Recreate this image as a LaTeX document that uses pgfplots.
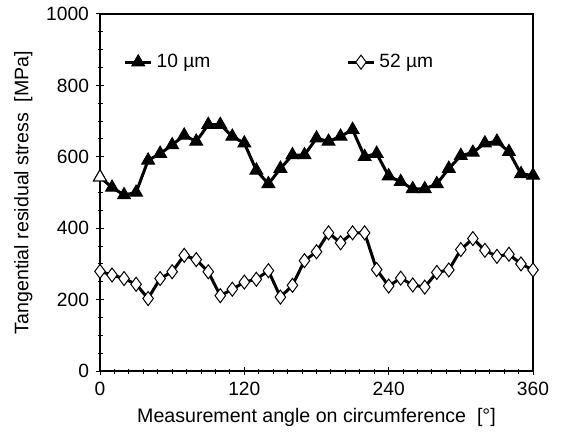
\documentclass[border=0pt]{standalone}
\usepackage{fontspec}
\setmainfont{Liberation Sans}
\usepackage{pgfplots}
\pgfplotsset{compat=1.18}

\pgfplotstableread{
ang  s10
0    543
10   514
20   493
30   500
40   590
50   609
60   633
70   660
80   643
90   690
100  690
110  657
120  638
130  562
140  524
150  567
160  605
170  605
180  652
190  643
200  657
210  676
220  600
230  609
240  546
250  530
260  510
270  510
280  524
290  567
300  603
310  612
320  638
330  643
340  614
350  552
360  548
}\tenum

\pgfplotstableread{
ang  s52
0    279
10   269
20   259
30   243
40   203
50   259
60   278
70   324
80   312
90   278
100  211
110  229
120  249
130  257
140  281
150  207
160  240
170  309
180  334
190  387
200  359
210  387
220  387
230  284
240  238
250  260
260  241
270  235
280  276
290  283
300  340
310  371
320  338
330  321
340  327
350  300
360  283
}\fiftytwo

\begin{document}
\begin{tikzpicture}
\begin{axis}[
    scale only axis,
    width=216.5pt, height=178.5pt,
    xmin=0, xmax=360, ymin=0, ymax=1000,
    xtick={0,120,240,360},
    ytick={0,200,400,600,800,1000},
    minor x tick num=9,
    minor y tick num=3,
    xtick pos=left, ytick pos=left,
    tick align=center,
    major tick length=4pt, minor tick length=2.5pt,
    every tick/.style={black, line width=0.5pt},
    axis line style={line width=0.6pt},
    /pgf/number format/assume math mode=true,
    /pgf/number format/1000 sep={},
    tick label style={font=\fontsize{9.6}{11}\selectfont},
    label style={font=\fontsize{9.8}{11}\selectfont},
    xlabel={Measurement angle on circumference\ \ [°]},
    ylabel={Tangential residual stress\ \ [MPa]},
    xlabel style={yshift=0.5pt},
    ylabel style={yshift=0pt},
    legend style={draw=none, fill=none, at={(0.04,0.865)}, anchor=west,
        legend columns=2, font=\fontsize{9.6}{11}\selectfont,
        /tikz/every even column/.append style={column sep=66pt}},
    legend image code/.code={\draw[mark repeat=2,mark phase=2,#1] plot coordinates {(0pt,0pt) (6.5pt,0pt) (13pt,0pt)};},
]
\addplot[black, line width=1.5pt, mark=triangle*, mark size=3.7pt,
    mark options={solid, line width=0.5pt, fill=black}] table[x=ang, y=s10] {\tenum};
\addlegendentry{10 µm}
\addplot[black, line width=1.5pt, mark=diamond*, mark size=3.5pt,
    mark options={solid, line width=0.5pt, fill=white}] table[x=ang, y=s52] {\fiftytwo};
\addlegendentry{52 µm}
\addplot[forget plot, only marks, mark=triangle*, mark size=3.7pt,
    mark options={line width=0.5pt, draw=black, fill=white}] coordinates {(0,543)};
\end{axis}
\pgfresetboundingbox
\useasboundingbox ([shift={(-50pt,-32.5pt)}]current axis.south west) rectangle ([shift={(15pt,7pt)}]current axis.north east);
\end{tikzpicture}
\end{document}
